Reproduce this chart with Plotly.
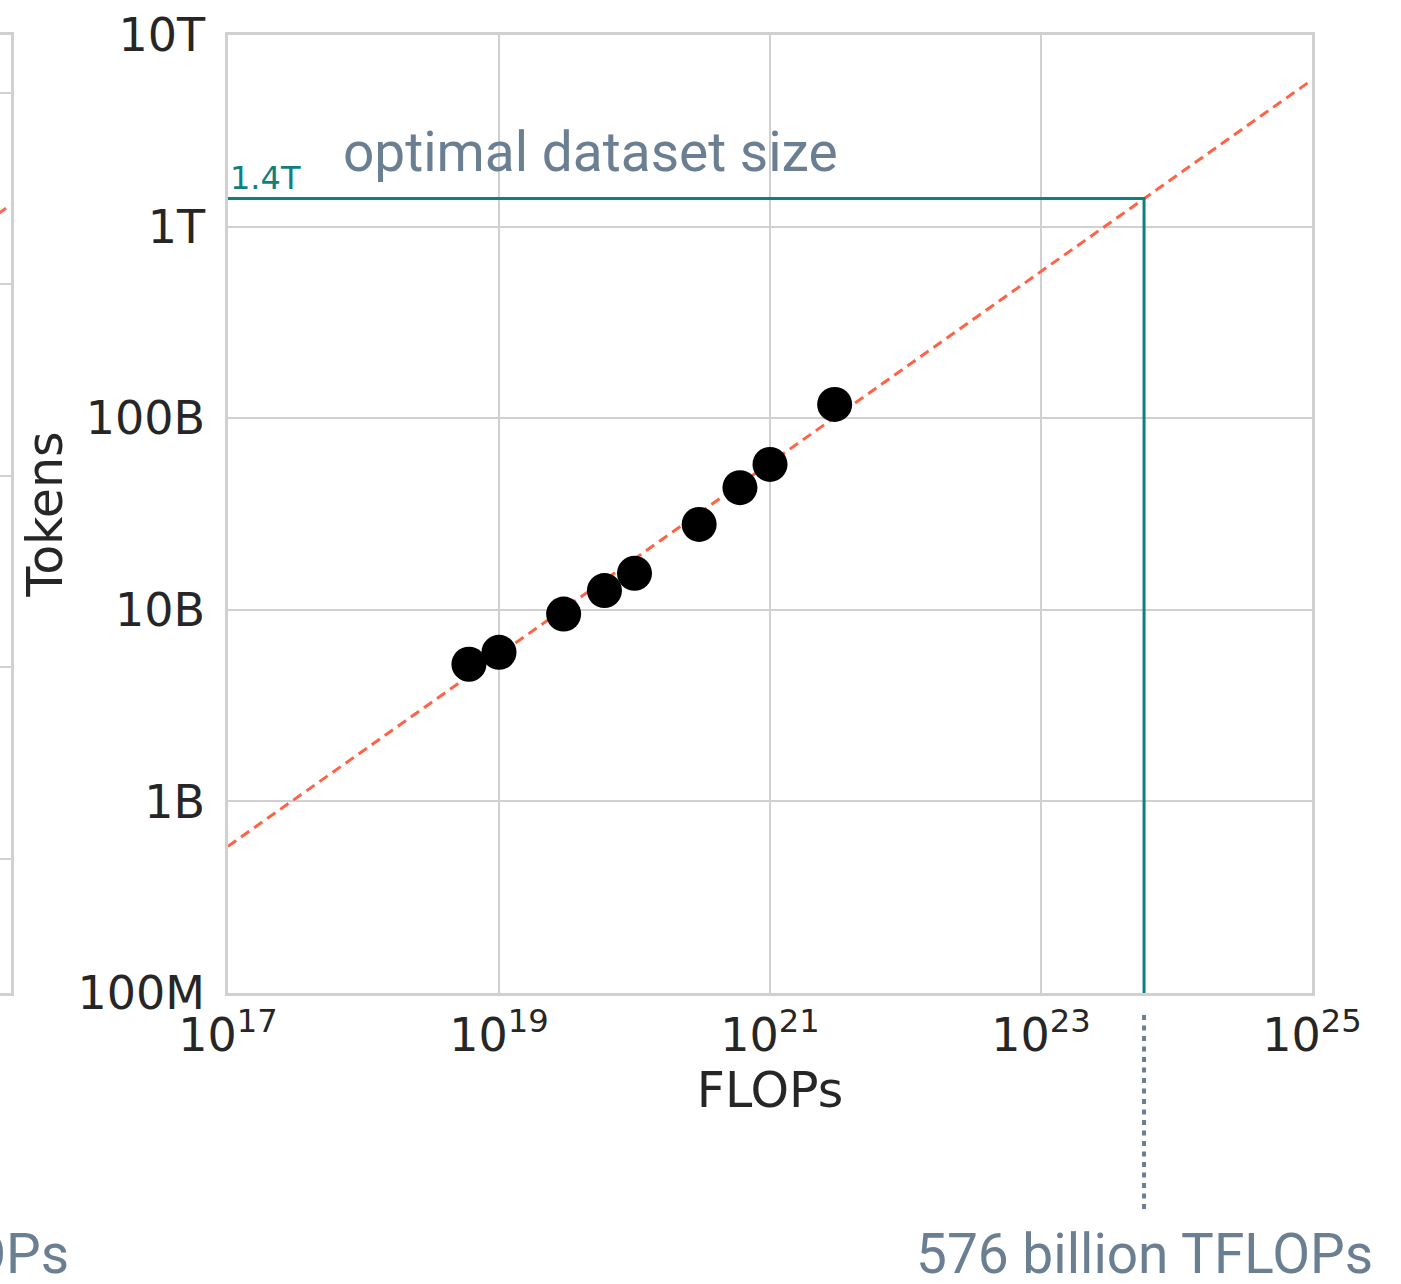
import math
import plotly.graph_objects as go

# Compute-optimal runs: training budget (FLOPs) vs. optimal number of training tokens
flops = [6e18, 1e19, 3e19, 6e19, 1e20, 3e20, 6e20, 1e21, 3e21]
tokens = [5.2e9, 6.0e9, 9.5e9, 1.26e10, 1.55e10, 2.79e10, 4.34e10, 5.74e10, 1.18e11]

# Power-law fit (tokens ~ FLOPs^0.5) evaluated at both ends of the axis
fit_flops = [1e17, 1e25]
fit_tokens = [5.83e8, 5.83e12]

# Target budget and the dataset size it calls for
target_flops = 5.76e23
target_tokens = 1.4e12
target_label = "1.4T"
budget_label = "576 billion TFLOPs"

# Neighbouring panel (optimal model size): only its right edge is in view
param_fit_flops = [1e17, 1e25]
param_fit = [2.6e7, 2.6e11]
param_grid = [1e8, 1e9, 1e10, 1e11, 1e12]

# Axis ticks
x_tickvals = [1e17, 1e19, 1e21, 1e23, 1e25]
x_ticktext = ["10<sup>17</sup>", "10<sup>19</sup>", "10<sup>21</sup>",
              "10<sup>23</sup>", "10<sup>25</sup>"]
y_tickvals = [1e8, 1e9, 1e10, 1e11, 1e12, 1e13]
y_ticktext = ["100M", "1B", "10B", "100B", "1T", "10T"]

W, H = 1401, 1284
# plot-area edges in pixels
PX_L, PX_R, PX_T, PX_B = 228, 1312, 35, 993
LEFT_PANEL_R = 11

X_DOM = [PX_L / W, PX_R / W]
Y_DOM = [1 - PX_B / H, 1 - PX_T / H]

TEAL = "#127f7f"
TOMATO = "#ff6347"
SLATE = "#6b7f93"
GRID = "#d0d0d0"
INK = "#262626"
TICK_FONT = dict(family="DejaVu Sans", size=46, color=INK)
CAPTION_FONT = dict(family="Roboto", size=55, color=SLATE)

fig = go.Figure()

# main panel
fig.add_trace(go.Scatter(
    x=fit_flops, y=fit_tokens, mode="lines",
    line=dict(color=TOMATO, width=3, dash="10px,6px"),
    xaxis="x", yaxis="y", hoverinfo="skip", showlegend=False))
fig.add_trace(go.Scatter(
    x=[fit_flops[0], target_flops, target_flops],
    y=[target_tokens, target_tokens, 10 ** 8],
    mode="lines", line=dict(color=TEAL, width=3),
    xaxis="x", yaxis="y", showlegend=False))
fig.add_trace(go.Scatter(
    x=flops, y=tokens, mode="markers",
    marker=dict(color="black", size=35, line=dict(width=0)),
    xaxis="x", yaxis="y", showlegend=False))

# neighbouring panel fit line
fig.add_trace(go.Scatter(
    x=param_fit_flops, y=param_fit, mode="lines",
    line=dict(color=TOMATO, width=3, dash="10px,6px"),
    xaxis="x2", yaxis="y2", hoverinfo="skip", showlegend=False))

# dotted drop line below the axis at the target budget
fig.add_shape(type="line", xref="x", yref="paper",
              x0=target_flops, x1=target_flops,
              y0=1 - 1015 / H, y1=1 - 1210 / H,
              line=dict(color=SLATE, width=4, dash="5px,5.5px"))

# text annotations
frac = (math.log10(target_flops) - 17) / 8
x_target_paper = X_DOM[0] + frac * (X_DOM[1] - X_DOM[0])
fig.add_annotation(text=budget_label, xref="paper", yref="paper",
                   x=x_target_paper, y=1 - 1254 / H, xanchor="center", yanchor="middle",
                   showarrow=False, font=CAPTION_FONT)
# same caption under the neighbouring panel, mostly out of view
fig.add_annotation(text=budget_label, xref="paper", yref="paper",
                   x=71 / W, y=1 - 1254 / H, xanchor="right", yanchor="middle",
                   showarrow=False, font=CAPTION_FONT)
fig.add_annotation(text="optimal dataset size", xref="paper", yref="paper",
                   x=590 / W, y=1 - 152 / H, xanchor="center", yanchor="middle",
                   showarrow=False, font=CAPTION_FONT)
fig.add_annotation(text=target_label, xref="x", yref="y",
                   x=17, y=math.log10(target_tokens), xanchor="left", yanchor="bottom",
                   showarrow=False, font=dict(family="DejaVu Sans", size=32, color=TEAL))

fig.update_layout(
    width=W, height=H,
    margin=dict(l=0, r=0, t=0, b=0),
    template="none",
    paper_bgcolor="white", plot_bgcolor="white",
    showlegend=False,
    xaxis=dict(
        type="log", range=[17, 25], domain=X_DOM, anchor="y",
        tickvals=x_tickvals, ticktext=x_ticktext, tickfont=TICK_FONT,
        showgrid=True, gridcolor=GRID, gridwidth=2,
        showline=True, linecolor=GRID, linewidth=2.5, mirror=True,
        ticks="", zeroline=False, automargin=False, ticklabelstandoff=0,
        title=dict(text="FLOPs", font=dict(family="DejaVu Sans", size=49, color=INK),
                   standoff=10),
    ),
    yaxis=dict(
        type="log", range=[8, 13], domain=Y_DOM, anchor="x",
        tickvals=y_tickvals, ticktext=y_ticktext, tickfont=TICK_FONT,
        showgrid=True, gridcolor=GRID, gridwidth=2,
        showline=True, linecolor=GRID, linewidth=2.5, mirror=True,
        ticks="", zeroline=False, automargin=False, ticklabelstandoff=11,
        title=dict(text="Tokens", font=dict(family="DejaVu Sans", size=49, color=INK),
                   standoff=0),
    ),
    xaxis2=dict(
        type="log", range=[25 - LEFT_PANEL_R / 135.5, 25], domain=[0, LEFT_PANEL_R / W],
        anchor="y2", tickvals=[1e25], ticktext=["10<sup>25</sup>"], tickfont=TICK_FONT,
        showgrid=False, showline=True, linecolor=GRID, linewidth=2.5, mirror=True,
        ticks="", zeroline=False, automargin=False, ticklabelstandoff=0,
    ),
    yaxis2=dict(
        type="log", range=[7.301, 12.301], domain=Y_DOM, anchor="x2", side="right",
        tickvals=param_grid, showticklabels=False,
        showgrid=True, gridcolor=GRID, gridwidth=2,
        showline=True, linecolor=GRID, linewidth=2.5, mirror=False,
        ticks="", zeroline=False, automargin=False,
    ),
)

fig.write_html("out.html")
